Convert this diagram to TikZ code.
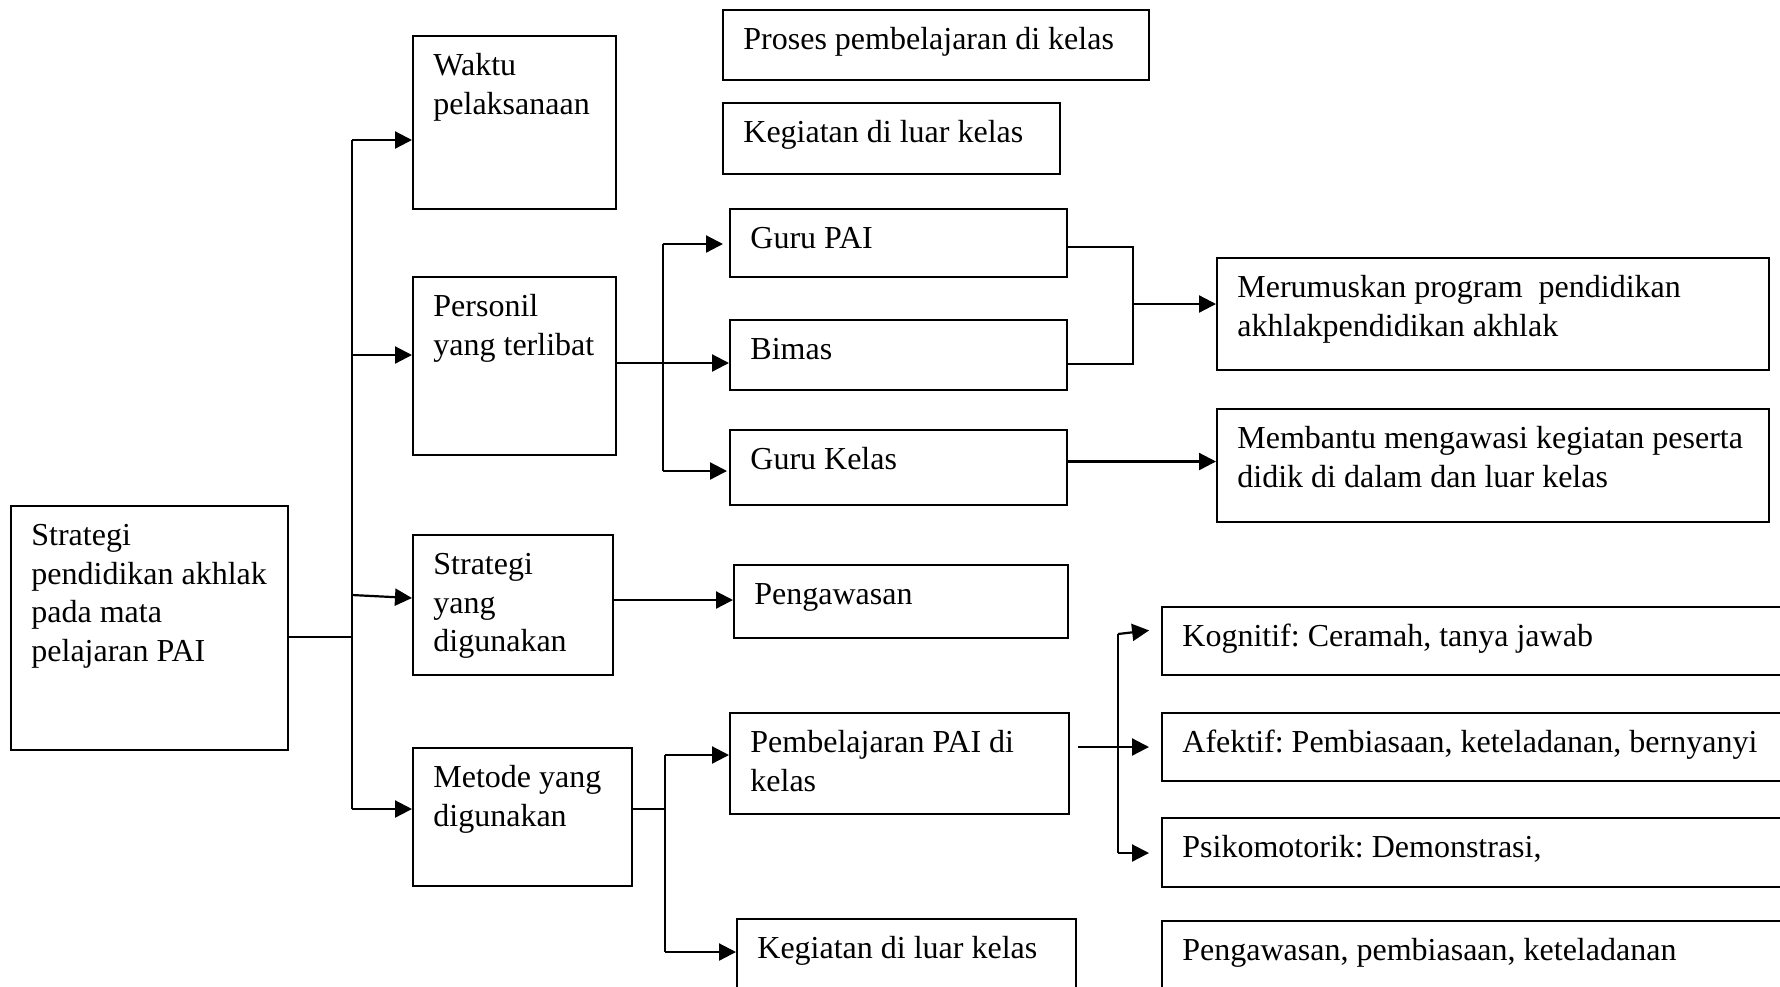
\documentclass[tikz,border=0pt]{standalone}
\usepackage{fontspec}
\setmainfont{Liberation Serif}
\usetikzlibrary{arrows.meta,calc}
\frenchspacing

\tikzset{
  box/.style={draw=black, line width=1pt, inner sep=0pt, anchor=north west},
  boxtext/.style={anchor=north west, inner sep=0pt, align=left,
    font=\fontsize{16}{19.3}\selectfont},
  arr/.style={line width=1.1pt, -{Triangle[length=8.5pt,width=8.5pt]}},
  link/.style={line width=1.1pt},
  thinlink/.style={line width=0.8pt},
}

% \mkbox{name}{x1}{y1}{x2}{y2}{text}: framed box with its text set at the top left
\newcommand\mkbox[6]{%
  \node[box, minimum width={(#4-#2)*0.5pt}, minimum height={(#5-#3)*0.5pt}] (#1) at (#2,#3) {};
  \node[boxtext] (#1-t) at ([shift={(10.5pt,-6.5pt)}]#1.north west) {\strut #6};
}

\begin{document}
\begin{tikzpicture}[x=0.5pt, y=-0.5pt]
\useasboundingbox (0,0) rectangle (1780,986);
\clip (0,0) rectangle (1780,986);

% boxes
\mkbox{main}{10}{505}{287}{749}{Strategi\\pendidikan akhlak\\pada mata\\pelajaran PAI}
\mkbox{waktu}{412}{35}{615}{208}{Waktu\\pelaksanaan}
\mkbox{personil}{412}{276}{615}{454}{Personil\\yang terlibat}
\mkbox{strategi}{412}{534}{612}{674}{Strategi\\yang\\digunakan}
\mkbox{metode}{412}{747}{631}{885}{Metode yang\\digunakan}
\mkbox{proses}{722}{9}{1148}{79}{Proses pembelajaran di kelas}
\mkbox{kegiatanA}{722}{102}{1059}{173}{Kegiatan di luar kelas}
\mkbox{gurupai}{729}{208}{1066}{276}{Guru PAI}
\mkbox{bimas}{729}{319}{1066}{389}{Bimas}
\mkbox{gurukelas}{729}{429}{1066}{504}{Guru Kelas}
\mkbox{merumuskan}{1216}{257}{1768}{369}{Merumuskan program~ pendidikan\\akhlakpendidikan akhlak}
\mkbox{membantu}{1216}{408}{1768}{521}{Membantu mengawasi kegiatan peserta\\didik di dalam dan luar kelas}
\mkbox{pengawasan}{733}{564}{1067}{637}{Pengawasan}
\mkbox{pembelajaran}{729}{712}{1068}{813}{Pembelajaran PAI di\\kelas}
\mkbox{kegiatanB}{736}{918}{1075}{1000}{Kegiatan di luar kelas}
\mkbox{kognitif}{1161}{606}{1800}{674}{Kognitif: Ceramah, tanya jawab}
\mkbox{afektif}{1161}{712}{1800}{780}{Afektif: Pembiasaan, keteladanan, bernyanyi}
\mkbox{psiko}{1161}{817}{1800}{886}{Psikomotorik: Demonstrasi,}
\mkbox{pengawasanB}{1161}{920}{1800}{1000}{Pengawasan, pembiasaan, keteladanan}

% main trunk
\coordinate (tr-top) at (352,140);
\coordinate (tr-main) at (352,637);
\coordinate (tr-p) at (352,355);
\coordinate (tr-s) at (352,595);
\coordinate (tr-m) at (352,809);
\draw[thinlink] (main.east |- tr-main) -- (tr-main);
\draw[link] (tr-top) -- (tr-m);
\draw[arr] (tr-top) -- (waktu.west |- tr-top);
\draw[arr] (tr-p) -- (personil.west |- tr-p);
\draw[arr] (tr-s) -- ($(strategi.west |- tr-s)+(0,3)$);
\draw[arr] (tr-m) -- (metode.west |- tr-m);

% personnel branch
\coordinate (pb-top) at (663,244);
\coordinate (pb-mid) at (663,363);
\coordinate (pb-bot) at (663,471);
\draw[link] (personil.east |- pb-mid) -- (pb-mid);
\draw[arr] (pb-mid) -- (bimas.west |- pb-mid);
\draw[link] (pb-top) -- (pb-bot);
\draw[arr, shorten >=3pt] (pb-top) -- (gurupai.west |- pb-top);
\draw[arr, shorten >=1pt] (pb-bot) -- (gurukelas.west |- pb-bot);

% Guru PAI and Bimas joined towards the programme box
\coordinate (gj-top) at (1133,247);
\coordinate (gj-bot) at (1133,364);
\coordinate (gj-out) at (1133,304);
\draw[link] (gurupai.east |- gj-top) -- (gj-top) -- (gj-bot) -- (bimas.east |- gj-bot);
\draw[arr] (gj-out) -- (merumuskan.west |- gj-out);
\draw[arr] ([yshift=3pt]gurukelas.east) -- ([yshift=3pt]gurukelas.east -| membantu.west);

% strategy
\draw[arr] ([yshift=2.5pt]strategi.east) -- ([yshift=2.5pt]strategi.east -| pengawasan.west);

% method branch
\coordinate (mb-top) at (665,755);
\coordinate (mb-mid) at (665,809);
\coordinate (mb-bot) at (665,952);
\draw[thinlink] (metode.east |- mb-mid) -- (mb-mid);
\draw[link] (mb-top) -- (mb-bot);
\draw[arr] (mb-top) -- (pembelajaran.west |- mb-top);
\draw[arr] (mb-bot) -- (kegiatanB.west |- mb-bot);

% classroom learning branch
\coordinate (kb-top) at (1118,634);
\coordinate (kb-mid) at (1118,747);
\coordinate (kb-bot) at (1118,853);
\draw[thinlink] ([xshift=4pt]pembelajaran.east |- kb-mid) -- (kb-mid);
\draw[link] (kb-top) -- (kb-bot);
\draw[arr, shorten >=6pt] (kb-top) -- ($(kognitif.west |- kb-top)+(0,-5)$);
\draw[arr, shorten >=6pt] (kb-mid) -- (afektif.west |- kb-mid);
\draw[arr, shorten >=6pt] (kb-bot) -- (psiko.west |- kb-bot);
\end{tikzpicture}
\end{document}
